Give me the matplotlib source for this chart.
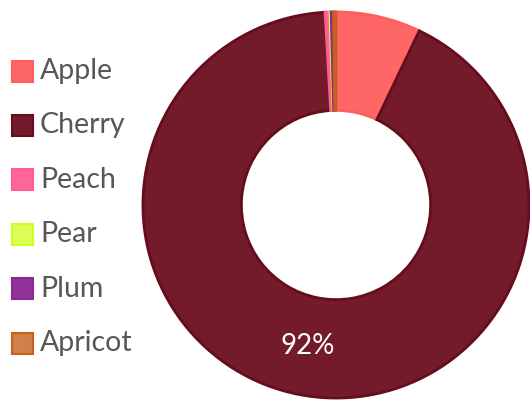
import numpy as np
import matplotlib.pyplot as plt
from matplotlib.patches import Rectangle

# dados
fruits = ["Apple", "Cherry", "Peach", "Pear", "Plum", "Apricot"]
values = [7.1, 92.0, 0.4, 0.1, 0.2, 0.2]
fills = ["#FF6666", "#731B2B", "#FF6699", "#DDFF55", "#923399", "#D08048"]
borders = ["#FF5E5E", "#650D1D", "#FF5C92", "#CCFF22", "#8A2A92", "#C8601E"]

W, H = 530, 400
fig = plt.figure(figsize=(W / 100, H / 100), dpi=100)

# donut
cx, cy, r = 336, 205, 195
ax = fig.add_axes([(cx - r) / W, (H - cy - r) / H, 2 * r / W, 2 * r / H])
wedges, _ = ax.pie(values, colors=fills, startangle=90, counterclock=False,
                   radius=1.0, wedgeprops=dict(width=0.51, linewidth=2))
for w, b in zip(wedges, borders):
    w.set_edgecolor(b)
ax.set_xlim(-1.01, 1.01)
ax.set_ylim(-1.01, 1.01)
ax.set_aspect("equal")
ax.axis("off")

# rotulo so para a fatia grande
total = sum(values)
start = 0.0
for v in values:
    if v / total > 0.5:
        mid = np.deg2rad(90 - (start + v / 2) / total * 360)
        rr = 1 - 0.51 / 2
        ax.text(rr * np.cos(mid), rr * np.sin(mid), f"{v / total * 100:.0f}%",
                ha="center", va="center", color="white", fontsize=20,
                family="Lato")
    start += v

# legenda
for i, (name, f, b) in enumerate(zip(fruits, fills, borders)):
    yc = 71 + i * 54.4
    box = Rectangle((12 / W, (H - yc - 10.5) / H), 21 / W, 21 / H,
                    transform=fig.transFigure, facecolor=f, edgecolor=b,
                    linewidth=1.5)
    fig.patches.append(box)
    fig.text(40 / W, (H - yc) / H, name, ha="left", va="center",
             fontsize=20.5, color="#575757", family="Lato")

fig.savefig("out.png", dpi=100)
